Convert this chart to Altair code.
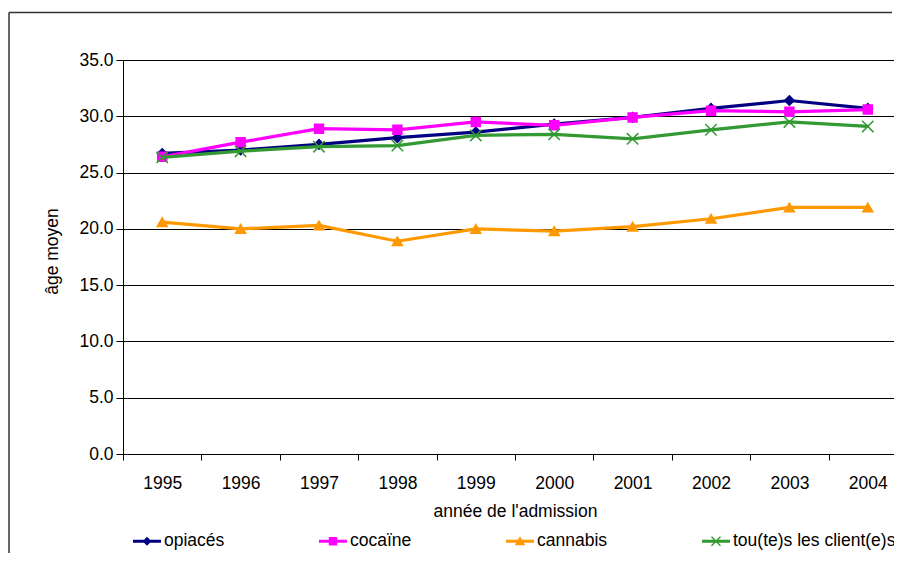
import altair as alt
import pandas as pd

years = ["1995", "1996", "1997", "1998", "1999", "2000", "2001", "2002", "2003", "2004"]
series = ["opiacés", "cocaïne", "cannabis", "tou(te)s les client(e)s"]
opiaces = [26.7, 27.0, 27.5, 28.1, 28.6, 29.3, 29.9, 30.7, 31.4, 30.7]
cocaine = [26.4, 27.7, 28.9, 28.8, 29.5, 29.2, 29.9, 30.5, 30.4, 30.6]
cannabis = [20.6, 20.0, 20.3, 18.9, 20.0, 19.8, 20.2, 20.9, 21.9, 21.9]
tous = [26.35, 26.9, 27.3, 27.4, 28.3, 28.4, 28.0, 28.8, 29.5, 29.1]
y_ticks = [0, 5, 10, 15, 20, 25, 30, 35]

colors = ["#000080", "#FF00FF", "#FF9900", "#339933"]
shapes = ["diamond", "square", "triangle-up", "M-1,-1L1,1M-1,1L1,-1"]
sizes = [90, 80, 100, 130]
LINE = "M-1,-0.1H1V0.1H-1Z"
legend_paths = [
    LINE + "M0,-0.32L0.32,0L0,0.32L-0.32,0Z",
    LINE + "M-0.3,-0.3H0.3V0.3H-0.3Z",
    LINE + "M0,-0.36L0.38,0.28L-0.38,0.28Z",
    LINE + "M-0.285,-0.355L0.355,0.285L0.285,0.355L-0.355,-0.285Z"
           "M-0.355,0.285L0.285,-0.355L0.355,-0.285L-0.285,0.355Z",
]

rows = []
for name, vals in zip(series, [opiaces, cocaine, cannabis, tous]):
    for yr, v in zip(years, vals):
        rows.append({"annee": yr, "age": v, "serie": name})
df = pd.DataFrame(rows)

FONT = "Liberation Sans"
W, H = 771, 394
BAND_RANGE = 784

x_enc = alt.X(
    "annee:N", sort=years, bandPosition=0.5,
    scale=alt.Scale(type="band", paddingInner=0, paddingOuter=0, range=[0, BAND_RANGE]),
    axis=alt.Axis(
        title="année de l'admission", tickBand="extent", labelAngle=0,
        tickSize=6, labelPadding=14, titleX=392, titleY=57, titleBaseline="middle",
        labelFontSize=17.5, titleFontSize=17.5, titleFontWeight="normal",
        labelFont=FONT, titleFont=FONT, domainColor="black", tickColor="black",
        labelColor="black", titleColor="black", grid=False,
    ),
)
y_enc = alt.Y(
    "age:Q",
    scale=alt.Scale(domain=[0, 35], nice=False, zero=True),
    axis=alt.Axis(
        title="âge moyen", values=y_ticks, format=".1f", tickSize=7, labelPadding=3,
        labelFontSize=17.5, titleFontSize=17.5, titleFontWeight="normal",
        labelFont=FONT, titleFont=FONT, titleX=-71, titleY=H / 2 - 6, titleBaseline="middle",
        domainColor="black", tickColor="black", labelColor="black", titleColor="black",
        grid=True, gridColor="black", gridWidth=1, gridOpacity=1,
    ),
)

base = alt.Chart(df)

series_layers = []
for name, c, s, sz in zip(series, colors, shapes, sizes):
    sub = base.transform_filter(alt.datum.serie == name)
    series_layers.append(
        sub.mark_line(strokeWidth=3.2, color=c).encode(x=x_enc, y=y_enc)
    )
    series_layers.append(
        sub.mark_point(filled=True, opacity=1, color=c, fill=c, stroke=c,
                       strokeWidth=1.5, shape=s, size=sz)
        .encode(x=x_enc, y=y_enc)
    )

leg = alt.Legend(
    orient="none", legendX=10, legendY=467, direction="horizontal", title=None,
    symbolSize=784, symbolStrokeWidth=0, symbolOpacity=1, labelFont=FONT, labelFontSize=17.5,
    labelColor="black", labelOffset=3, columnPadding=94, labelLimit=400,
)
legend_layer = base.mark_point(filled=True, size=0, opacity=1).encode(
    x=x_enc, y=y_enc,
    color=alt.Color("serie:N", sort=series, scale=alt.Scale(domain=series, range=colors), legend=leg),
    shape=alt.Shape("serie:N", sort=series, scale=alt.Scale(domain=series, range=legend_paths), legend=leg),
)

one = pd.DataFrame({"k": [0]})
border_top = alt.Chart(one).mark_rule(color="#333333", strokeWidth=1.5).encode(
    x=alt.value(-114), x2=alt.value(W - 2), y=alt.value(-47.5)
)
border_left = alt.Chart(one).mark_rule(color="#333333", strokeWidth=1.5).encode(
    x=alt.value(-114), y=alt.value(-47.5), y2=alt.value(H + 200)
)

chart = alt.layer(border_top, border_left, *series_layers, legend_layer).properties(
    width=W, height=H,
    autosize=alt.AutoSizeParams(type="none"),
    padding={"left": 115, "top": 52, "right": 0, "bottom": 99},
).configure_view(stroke=None).configure(background="white")

chart.save("out.html", embed_options={"renderer": "svg", "actions": False})
